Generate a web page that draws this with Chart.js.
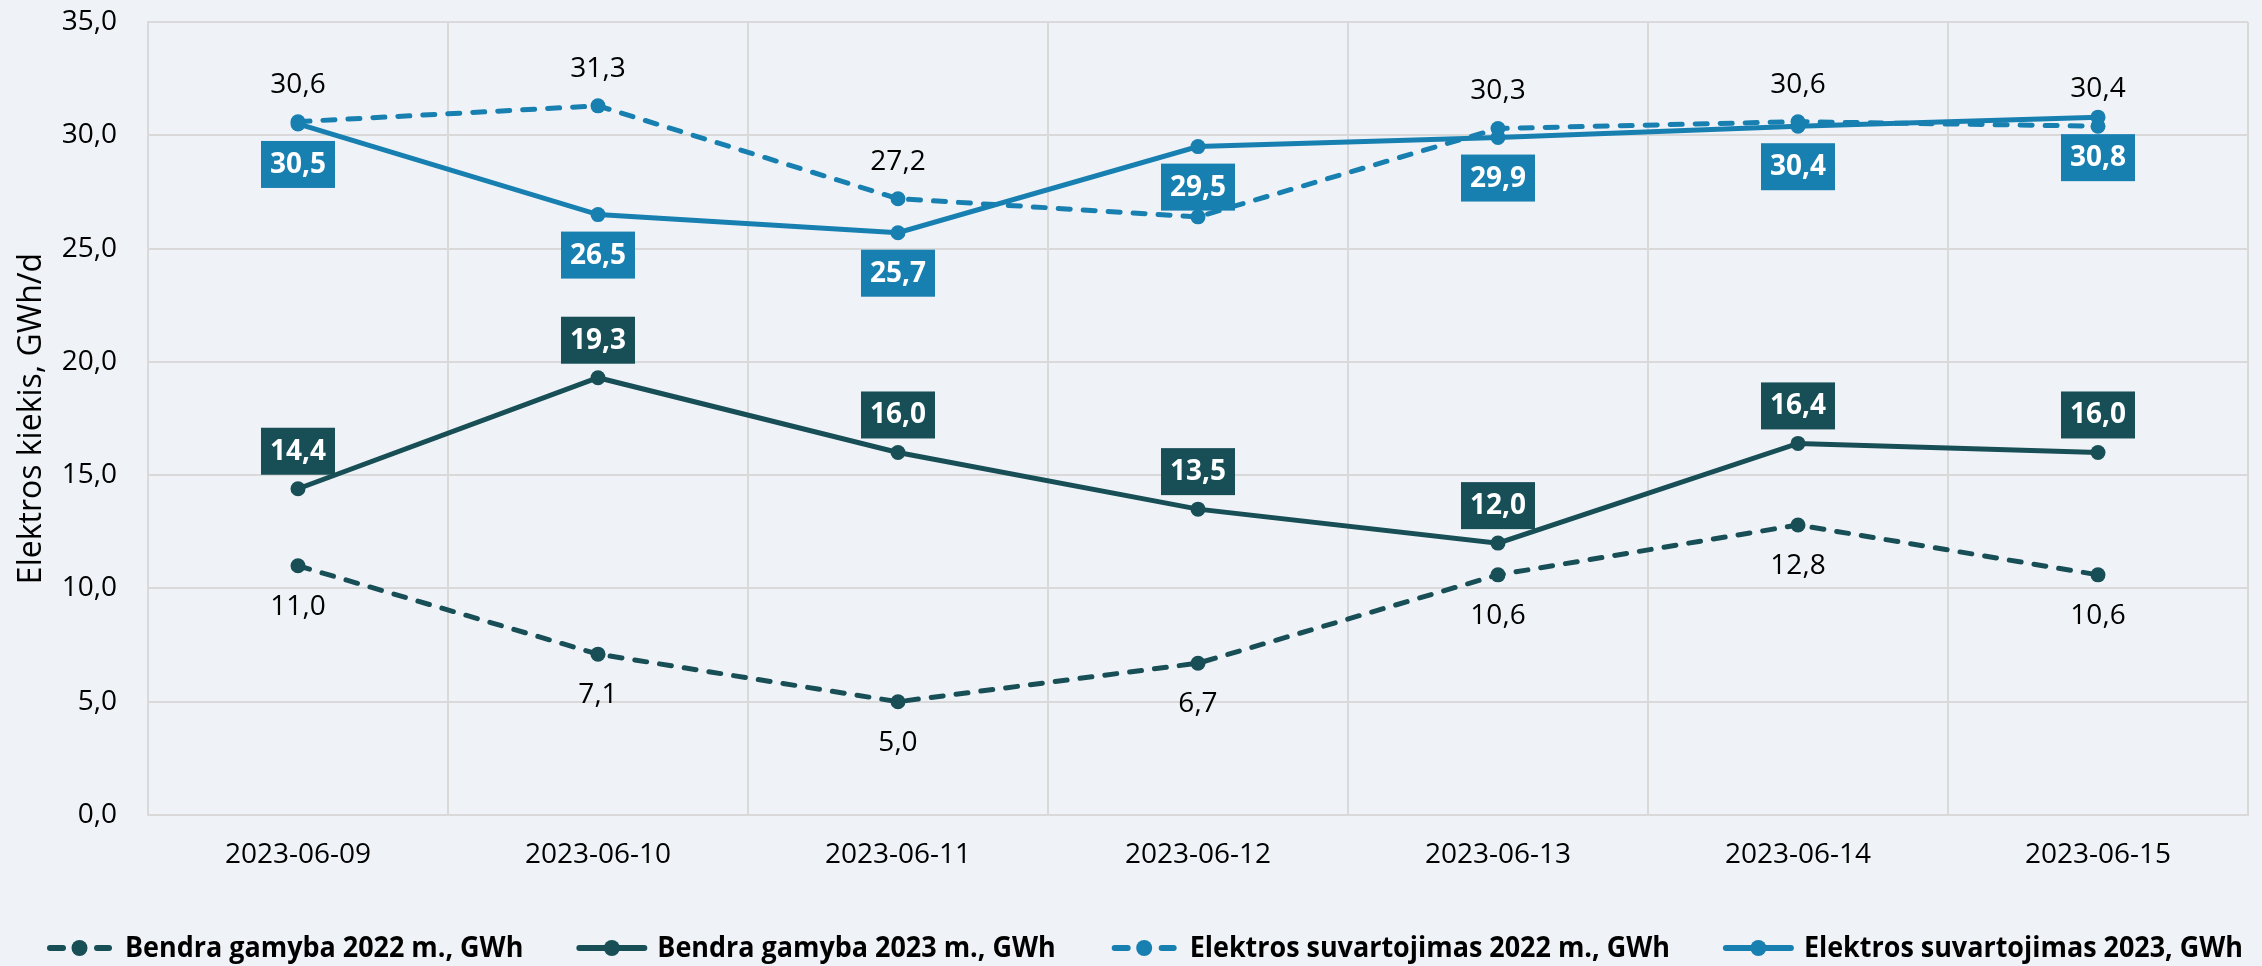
<!DOCTYPE html>
<html>
<head>
<meta charset="utf-8">
<script src="https://cdn.jsdelivr.net/npm/chart.js@4.4.0/dist/chart.umd.min.js"></script>
<style>
  html, body { margin: 0; padding: 0; background: #EFF3F7; }
  canvas { display: block; }
</style>
</head>
<body>
<canvas id="grafikas" width="2262" height="966"></canvas>
<script>
// duomenys
const datos = ["2023-06-09", "2023-06-10", "2023-06-11", "2023-06-12", "2023-06-13", "2023-06-14", "2023-06-15"];
const gamyba2022 = [11.0, 7.1, 5.0, 6.7, 10.6, 12.8, 10.6];
const gamyba2023 = [14.4, 19.3, 16.0, 13.5, 12.0, 16.4, 16.0];
const suvartojimas2022 = [30.6, 31.3, 27.2, 26.4, 30.3, 30.6, 30.4];
const suvartojimas2023 = [30.5, 26.5, 25.7, 29.5, 29.9, 30.4, 30.8];
const yMin = 0, yMax = 35, yZingsnis = 5;

const TAMSI = "#184F57";
const MELYNA = "#187FB1";
const SRIFTAS = '"Open Sans", "Noto Sans", sans-serif';

function fmt(v) {
  return v.toFixed(1).replace(".", ",");
}

// reiksmiu etiketes
const etiketes = {
  id: "etiketes",
  afterDatasetsDraw(chart) {
    const ctx = chart.ctx;
    [false, true].forEach((suDeze) => {
      chart.data.datasets.forEach((ds, di) => {
        if (ds.suDeze !== suDeze) return;
        const meta = chart.getDatasetMeta(di);
        meta.data.forEach((pt, i) => {
          const txt = fmt(ds.data[i]);
          const y = pt.y + (ds.etiketesVieta === "virs" ? -38 : 40);
          ctx.save();
          ctx.font = (suDeze ? "bold " : "") + "28px " + SRIFTAS;
          ctx.textAlign = "center";
          ctx.textBaseline = "middle";
          if (suDeze) {
            const w = ctx.measureText(txt).width + 18;
            ctx.fillStyle = ds.borderColor;
            ctx.fillRect(pt.x - w / 2, y - 23, w, 47);
            ctx.fillStyle = "#fff";
          } else {
            ctx.fillStyle = "#000";
          }
          ctx.fillText(txt, pt.x, y + 1);
          ctx.restore();
        });
      });
    });
  },
};

// legenda apacioje
const legenda = {
  id: "legenda",
  afterDraw(chart) {
    const ctx = chart.ctx;
    const y = 948;
    const linija = 65, tarpas = 13, tarpTarpu = 56;
    ctx.save();
    ctx.font = "bold 28px " + SRIFTAS;
    const plociai = chart.data.datasets.map((ds) => ctx.measureText(ds.label).width);
    const tekstoViso = plociai.reduce((a, b) => a + b, 0);
    const sx = 1716 / tekstoViso; // siauresnis sriftas kaip originale
    let viso = 0;
    plociai.forEach((p) => (viso += linija + tarpas + p * sx));
    viso += tarpTarpu * (plociai.length - 1);
    let x = 1145 - viso / 2;
    chart.data.datasets.forEach((ds, i) => {
      ctx.strokeStyle = ds.borderColor;
      ctx.fillStyle = ds.borderColor;
      ctx.lineWidth = 6;
      ctx.lineCap = "round";
      ctx.beginPath();
      if (ds.borderDash && ds.borderDash.length) {
        ctx.moveTo(x + 3, y); ctx.lineTo(x + 16, y);
        ctx.moveTo(x + linija - 15, y); ctx.lineTo(x + linija - 3, y);
      } else {
        ctx.moveTo(x, y); ctx.lineTo(x + linija, y);
      }
      ctx.stroke();
      ctx.beginPath();
      ctx.arc(x + linija / 2, y, 8, 0, Math.PI * 2);
      ctx.fill();
      ctx.fillStyle = "#000";
      ctx.textAlign = "left";
      ctx.textBaseline = "middle";
      ctx.save();
      ctx.translate(x + linija + tarpas, y + 1);
      ctx.scale(sx, 1);
      ctx.fillText(ds.label, 0, 0);
      ctx.restore();
      x += linija + tarpas + plociai[i] * sx + tarpTarpu;
    });
    ctx.restore();
  },
};

function serija(label, data, spalva, punktyras, vieta, suDeze, eile) {
  return {
    label: label,
    data: data,
    borderColor: spalva,
    backgroundColor: spalva,
    borderWidth: 5,
    borderDash: punktyras ? [12, 13] : [],
    borderCapStyle: punktyras ? "round" : "butt",
    pointRadius: 7.5,
    pointHoverRadius: 7.5,
    pointBorderWidth: 0,
    pointBackgroundColor: spalva,
    tension: 0,
    etiketesVieta: vieta,
    suDeze: suDeze,
    order: eile,
  };
}

new Chart(document.getElementById("grafikas"), {
  type: "line",
  data: {
    labels: datos,
    datasets: [
      serija("Bendra gamyba 2022 m., GWh", gamyba2022, TAMSI, true, "po", false, 4),
      serija("Bendra gamyba 2023 m., GWh", gamyba2023, TAMSI, false, "virs", true, 3),
      serija("Elektros suvartojimas 2022 m., GWh", suvartojimas2022, MELYNA, true, "virs", false, 2),
      serija("Elektros suvartojimas 2023, GWh", suvartojimas2023, MELYNA, false, "po", true, 1),
    ],
  },
  options: {
    responsive: false,
    animation: false,
    devicePixelRatio: 1,
    layout: { padding: { top: 22, right: 14, left: 0, bottom: 0 } },
    plugins: {
      legend: { display: false },
      tooltip: { enabled: false },
    },
    scales: {
      x: {
        offset: true,
        grid: { offset: true, color: "#D9D9D9", lineWidth: 2, drawTicks: false },
        border: { color: "#D9D9D9", width: 2 },
        ticks: { color: "#000", padding: 23, font: { family: SRIFTAS, size: 28 } },
        afterFit: (s) => { s.height = 151; s.paddingLeft = 0; s.paddingRight = 0; },
      },
      y: {
        min: yMin,
        max: yMax,
        grid: { color: "#D9D9D9", lineWidth: 2, drawTicks: false },
        border: { color: "#D9D9D9", width: 2 },
        ticks: {
          stepSize: yZingsnis,
          color: "#000",
          padding: 31,
          font: { family: SRIFTAS, size: 28 },
          callback: (v) => fmt(v),
        },
        title: {
          display: true,
          text: "Elektros kiekis, GWh/d",
          color: "#000",
          font: { family: SRIFTAS, size: 32 },
          padding: { top: 13, bottom: 0 },
        },
        afterFit: (s) => { s.width = 148; s.paddingTop = 0; s.paddingBottom = 0; },
      },
    },
  },
  plugins: [etiketes, legenda],
});
</script>
</body>
</html>
